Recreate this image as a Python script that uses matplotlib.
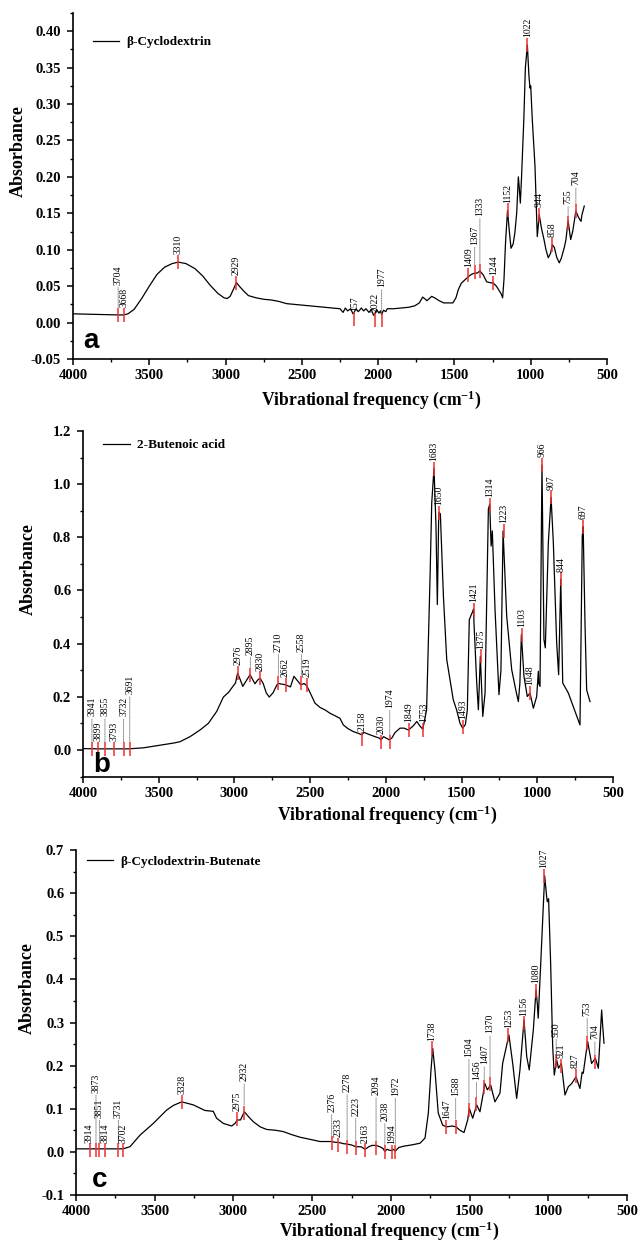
import numpy as np
import matplotlib
matplotlib.use("Agg")
import matplotlib.pyplot as plt
from matplotlib.ticker import MultipleLocator, FormatStrFormatter

plt.rcParams["font.family"] = ["Liberation Serif", "DejaVu Serif"]
plt.rcParams["axes.unicode_minus"] = False
plt.rcParams["mathtext.fontset"] = "custom"
plt.rcParams["mathtext.rm"] = "Liberation Serif:bold"
plt.rcParams["mathtext.bf"] = "Liberation Serif:bold"
plt.rcParams["mathtext.default"] = "bf"

# ---------------- panel a : beta-cyclodextrin ----------------
bcd_wn = [4000, 3900, 3800, 3704, 3668, 3640, 3600, 3550, 3500, 3450, 3400, 3350, 3310,
          3260, 3200, 3150, 3100, 3050, 3010, 2990, 2970, 2950, 2929, 2910, 2880, 2850,
          2800, 2750, 2700, 2650, 2600, 2500, 2400, 2300, 2250, 2230, 2215, 2200, 2180,
          2165, 2157, 2145, 2130, 2110, 2095, 2080, 2060, 2045, 2030, 2022, 2010, 1995,
          1985, 1977, 1965, 1950, 1940, 1900, 1850, 1800, 1760, 1730, 1708, 1690, 1680,
          1665, 1649, 1630, 1600, 1570, 1540, 1510, 1490, 1475, 1455, 1430, 1409, 1390,
          1367, 1350, 1333, 1310, 1289, 1270, 1244, 1225, 1213, 1195, 1184, 1175, 1165,
          1152, 1140, 1129, 1115, 1104, 1092, 1081, 1075, 1068, 1060, 1045, 1035, 1022,
          1012, 1005, 1000, 990, 972, 957, 944, 930, 913, 900, 885, 870, 858, 845, 830,
          813, 800, 780, 769, 755, 745, 738, 725, 704, 690, 677, 670, 665, 649]
bcd_abs = [0.012, 0.0115, 0.011, 0.0105, 0.0105, 0.012, 0.018, 0.033, 0.050, 0.066, 0.076,
           0.081, 0.083, 0.081, 0.074, 0.064, 0.051, 0.040, 0.034, 0.033, 0.036, 0.045,
           0.055, 0.050, 0.043, 0.037, 0.034, 0.032, 0.031, 0.029, 0.026, 0.024, 0.022,
           0.020, 0.019, 0.014, 0.020, 0.016, 0.019, 0.012, 0.014, 0.019, 0.015, 0.020,
           0.016, 0.019, 0.014, 0.018, 0.010, 0.012, 0.018, 0.013, 0.016, 0.011, 0.017,
           0.015, 0.019, 0.019, 0.020, 0.021, 0.023, 0.027, 0.035, 0.032, 0.030, 0.033,
           0.036, 0.034, 0.030, 0.027, 0.027, 0.027, 0.034, 0.045, 0.054, 0.059, 0.063,
           0.066, 0.068, 0.068, 0.071, 0.065, 0.056, 0.055, 0.054, 0.050, 0.046, 0.040,
           0.034, 0.060, 0.110, 0.154, 0.125, 0.102, 0.108, 0.123, 0.150, 0.200, 0.185,
           0.164, 0.200, 0.280, 0.350, 0.381, 0.340, 0.322, 0.325, 0.280, 0.215, 0.118,
           0.148, 0.130, 0.114, 0.100, 0.089, 0.095, 0.107, 0.103, 0.090, 0.082, 0.088,
           0.103, 0.114, 0.140, 0.125, 0.114, 0.125, 0.153, 0.146, 0.141, 0.139, 0.147, 0.160]
bcd_pk_wn = [3704, 3668, 3310, 2929, 2157, 2022, 1977, 1409, 1367, 1333, 1244, 1152,
             1022, 944, 858, 755, 704]
bcd_pk_abs = [0.011, 0.011, 0.083, 0.055, 0.005, 0.0035, 0.004, 0.066, 0.070, 0.071,
              0.055, 0.154, 0.381, 0.148, 0.107, 0.137, 0.153]
bcd_pk_lbl = ["3704", "3668", "3310", "2929", "157", "2022", "1977", "1409", "1367",
              "1333", "1244", "1152", "1022", "944", "858", "755", "704"]

# ---------------- panel b : 2-butenoic acid ----------------
but_wn = [4000, 3900, 3800, 3700, 3600, 3513, 3400, 3359, 3293, 3227, 3172, 3117, 3073,
          3040, 2993, 2979, 2960, 2945, 2920, 2897, 2880, 2864, 2848, 2831, 2810, 2790,
          2770, 2745, 2720, 2710, 2690, 2662, 2630, 2607, 2590, 2562, 2540, 2523, 2500,
          2468, 2435, 2400, 2369, 2303, 2281, 2250, 2215, 2180, 2160, 2145, 2110, 2072,
          2045, 2032, 2015, 2000, 1977, 1960, 1940, 1906, 1880, 1851, 1820, 1796, 1775,
          1756, 1731, 1708, 1697, 1682, 1669, 1660, 1651, 1648, 1640, 1620, 1598, 1555,
          1533, 1510, 1493, 1475, 1462, 1449, 1435, 1427, 1421, 1418, 1400, 1389, 1376,
          1360, 1345, 1323, 1314, 1305, 1297, 1279, 1253, 1240, 1226, 1202, 1169, 1140,
          1125, 1115, 1105, 1088, 1066, 1048, 1026, 1004, 993, 990, 982, 969, 956, 947,
          927, 909, 894, 872, 859, 845, 832, 795, 718, 703, 697, 691, 685, 674, 652]
but_abs = [0.005, 0.004, 0.004, 0.004, 0.008, 0.016, 0.026, 0.031, 0.050, 0.075, 0.100,
           0.145, 0.199, 0.216, 0.252, 0.289, 0.262, 0.239, 0.262, 0.283, 0.265, 0.249,
           0.262, 0.270, 0.250, 0.215, 0.199, 0.215, 0.244, 0.250, 0.248, 0.245, 0.237,
           0.277, 0.265, 0.245, 0.250, 0.242, 0.215, 0.176, 0.160, 0.150, 0.138, 0.119,
           0.094, 0.080, 0.069, 0.062, 0.057, 0.066, 0.058, 0.050, 0.045, 0.038, 0.050,
           0.045, 0.038, 0.045, 0.065, 0.082, 0.082, 0.075, 0.090, 0.107, 0.090, 0.078,
           0.151, 0.654, 0.930, 1.060, 0.843, 0.547, 0.880, 0.893, 0.888, 0.579, 0.340,
           0.189, 0.151, 0.100, 0.082, 0.095, 0.150, 0.490, 0.510, 0.520, 0.530, 0.478,
           0.252, 0.151, 0.352, 0.126, 0.214, 0.906, 0.925, 0.767, 0.824, 0.528, 0.208,
           0.300, 0.824, 0.503, 0.302, 0.220, 0.182, 0.250, 0.434, 0.277, 0.201, 0.214,
           0.157, 0.201, 0.296, 0.250, 0.239, 1.072, 0.415, 0.384, 0.780, 0.950, 0.780,
           0.403, 0.283, 0.642, 0.252, 0.214, 0.094, 0.805, 0.840, 0.667, 0.478, 0.226, 0.182]
but_pk_wn = [3941, 3899, 3855, 3793, 3732, 3691, 2976, 2895, 2830, 2710, 2662, 2558, 2519,
             2158, 2030, 1974, 1849, 1753, 1683, 1650, 1493, 1421, 1375, 1314, 1223, 1103,
             1048, 966, 907, 844, 697]
but_pk_abs = [0.003, 0.003, 0.003, 0.003, 0.003, 0.003, 0.291, 0.283, 0.270, 0.252, 0.245,
              0.252, 0.245, 0.041, 0.031, 0.031, 0.075, 0.075, 1.057, 0.893, 0.088, 0.528,
              0.352, 0.922, 0.824, 0.434, 0.214, 1.072, 0.950, 0.642, 0.840]
but_pk_lbl = [str(v) for v in but_pk_wn]

# ---------------- panel c : beta-cyclodextrin-butenate ----------------
cdb_wn = [4000, 3900, 3800, 3702, 3657, 3593, 3509, 3424, 3380, 3328, 3255, 3181, 3128,
          3107, 3064, 3011, 2990, 2975, 2955, 2931, 2900, 2874, 2830, 2789, 2730, 2683,
          2630, 2577, 2500, 2450, 2376, 2350, 2333, 2300, 2277, 2250, 2222, 2190, 2163,
          2140, 2120, 2094, 2070, 2050, 2038, 2025, 2010, 1994, 1985, 1972, 1950, 1921,
          1870, 1815, 1783, 1762, 1745, 1734, 1720, 1699, 1671, 1645, 1610, 1586, 1561,
          1535, 1512, 1502, 1480, 1455, 1434, 1413, 1404, 1387, 1366, 1339, 1320, 1307,
          1290, 1250, 1226, 1201, 1180, 1154, 1137, 1121, 1095, 1078, 1070, 1064, 1048,
          1023, 1010, 1006, 998, 985, 972, 962, 947, 935, 917, 894, 873, 850, 824, 799,
          785, 778, 750, 725, 701, 682, 661, 656, 646]
cdb_abs = [0.007, 0.007, 0.007, 0.007, 0.012, 0.039, 0.066, 0.097, 0.108, 0.116, 0.109,
           0.096, 0.094, 0.078, 0.066, 0.060, 0.066, 0.074, 0.074, 0.093, 0.080, 0.070,
           0.058, 0.052, 0.050, 0.047, 0.040, 0.034, 0.028, 0.024, 0.024, 0.022, 0.022,
           0.019, 0.018, 0.016, 0.012, 0.012, 0.006, 0.012, 0.015, 0.015, 0.012, 0.008,
           0.001, 0.006, 0.004, 0.003, 0.006, 0.002, 0.010, 0.013, 0.016, 0.020, 0.032,
           0.090, 0.190, 0.240, 0.190, 0.090, 0.062, 0.058, 0.060, 0.058, 0.050, 0.045,
           0.074, 0.101, 0.078, 0.109, 0.093, 0.136, 0.159, 0.144, 0.155, 0.116, 0.128,
           0.136, 0.205, 0.271, 0.205, 0.124, 0.190, 0.306, 0.221, 0.190, 0.283, 0.375,
           0.345, 0.310, 0.437, 0.640, 0.590, 0.580, 0.587, 0.437, 0.244, 0.178, 0.213,
           0.194, 0.205, 0.132, 0.151, 0.159, 0.174, 0.147, 0.185, 0.182, 0.256, 0.205,
           0.217, 0.194, 0.329, 0.300, 0.252]
cdb_pk_wn = [3914, 3873, 3851, 3814, 3731, 3702, 3328, 2975, 2932, 2376, 2333, 2278, 2223,
             2163, 2094, 2038, 1994, 1972, 1738, 1647, 1588, 1504, 1456, 1407, 1370, 1253,
             1156, 1080, 1027, 950, 921, 827, 753, 704]
cdb_pk_abs = [0.004, 0.004, 0.004, 0.004, 0.004, 0.004, 0.116, 0.076, 0.091, 0.020, 0.016,
              0.012, 0.008, 0.004, 0.008, -0.001, 0.0, 0.0, 0.240, 0.058, 0.058, 0.097,
              0.111, 0.150, 0.157, 0.270, 0.298, 0.374, 0.640, 0.211, 0.200, 0.177, 0.253,
              0.208]
cdb_pk_lbl = [str(v) for v in cdb_pk_wn]

# extra lift (points) of the labels that hang on a dotted leader
lift_a = {"3704": 16, "1977": 18, "1367": 14, "1333": 34, "755": 8, "704": 13}
lift_b = {"3941": 18, "3855": 18, "3732": 18, "3691": 34, "2895": 9, "2710": 17,
          "2558": 17, "1974": 19}
lift_c = {"3873": 36, "3851": 18, "3731": 18, "2932": 17, "2376": 17, "2278": 34,
          "2223": 18, "2094": 33, "2038": 17, "1972": 35, "1588": 17, "1504": 33,
          "1456": 12, "1407": 11, "1370": 31, "950": 12, "753": 14, "704": 11}

W, H = 639, 1243
fig = plt.figure(figsize=(W / 100, H / 100), dpi=100)


def make_panel(rect, wn, ab, pk_wn, pk_abs, pk_lbl, lifts, ylim, ymaj, ymin, yfmt,
               name, letter, leg_xy, letter_xy, ylab_x, xlab_xy):
    ax = fig.add_axes(rect)
    ax.plot(wn, ab, color="black", lw=0.9, label=name, zorder=2)
    ax.plot(pk_wn, pk_abs, ls="none", marker="|", ms=10, mew=1.1, color="#ee3030", zorder=3)
    for x, y, t in zip(pk_wn, pk_abs, pk_lbl):
        lift = lifts.get(t, 0)
        kw = {}
        if lift:
            kw["arrowprops"] = dict(arrowstyle="-", ls=(0, (1, 1)), lw=0.6,
                                    color="#777777", shrinkA=0, shrinkB=5)
        ax.annotate(t, xy=(x, y), xytext=(0, 5.5 + lift), textcoords="offset points",
                    rotation=90, ha="center", va="bottom", fontsize=7, **kw)
    ax.set_xlim(4000, 500)
    ax.set_ylim(*ylim)
    ax.xaxis.set_major_locator(MultipleLocator(500))
    ax.xaxis.set_minor_locator(MultipleLocator(250))
    ax.yaxis.set_major_locator(MultipleLocator(ymaj))
    ax.yaxis.set_minor_locator(MultipleLocator(ymin))
    ax.yaxis.set_major_formatter(FormatStrFormatter(yfmt))
    for s in ["top", "right"]:
        ax.spines[s].set_visible(False)
    for s in ["left", "bottom"]:
        ax.spines[s].set_linewidth(1.2)
    ax.tick_params(which="major", direction="out", length=4, width=1.1, labelsize=10.5)
    ax.tick_params(axis="x", which="major", pad=3.5)
    ax.tick_params(axis="y", which="major", pad=4.5)
    ax.tick_params(which="minor", direction="out", length=2.5, width=1.0)
    for lb in ax.get_xticklabels() + ax.get_yticklabels():
        lb.set_fontweight("bold")
    ax.set_ylabel("Absorbance", fontsize=13, fontweight="bold", va="center")
    ax.yaxis.set_label_coords(ylab_x, 0.6)
    ax.set_xlabel("Vibrational frequency (cm$^{-1}$)", fontsize=12.7, fontweight="bold",
                  va="center")
    ax.xaxis.set_label_coords(*xlab_xy)
    ax.legend(loc="upper left", bbox_to_anchor=leg_xy, frameon=False, borderpad=0,
              borderaxespad=0, handlelength=2.0, handletextpad=0.55,
              prop={"family": "Liberation Serif", "weight": "bold", "size": 9.5})
    ax.text(letter_xy[0], letter_xy[1], letter, transform=ax.transAxes,
            fontsize=20, fontweight="bold", family="Liberation Sans", va="baseline")
    return ax


make_panel([73 / W, 1 - 359 / H, 534 / W, 346 / H], bcd_wn, bcd_abs, bcd_pk_wn,
           bcd_pk_abs, bcd_pk_lbl, lift_a, (-0.05, 0.425), 0.05, 0.025, "%.2f",
           "β-Cyclodextrin", "a", (0.037, 0.933), (0.019, 0.032), -0.103, (0.558, -0.118))
make_panel([83 / W, 1 - 776.5 / H, 530 / W, 345.5 / H], but_wn, but_abs, but_pk_wn,
           but_pk_abs, but_pk_lbl, lift_b, (-0.1, 1.2), 0.2, 0.1, "%.1f",
           "2-Butenoic acid", "b", (0.038, 0.977), (0.019, 0.014), -0.104, (0.574, -0.112))
make_panel([76 / W, 1 - 1195 / H, 551 / W, 345 / H], cdb_wn, cdb_abs, cdb_pk_wn,
           cdb_pk_abs, cdb_pk_lbl, lift_c, (-0.1, 0.7), 0.1, 0.05, "%.1f",
           "β-Cyclodextrin-Butenate", "c", (0.02, 0.983), (0.029, 0.022), -0.089, (0.568, -0.104))

fig.savefig("out.png", dpi=100)
